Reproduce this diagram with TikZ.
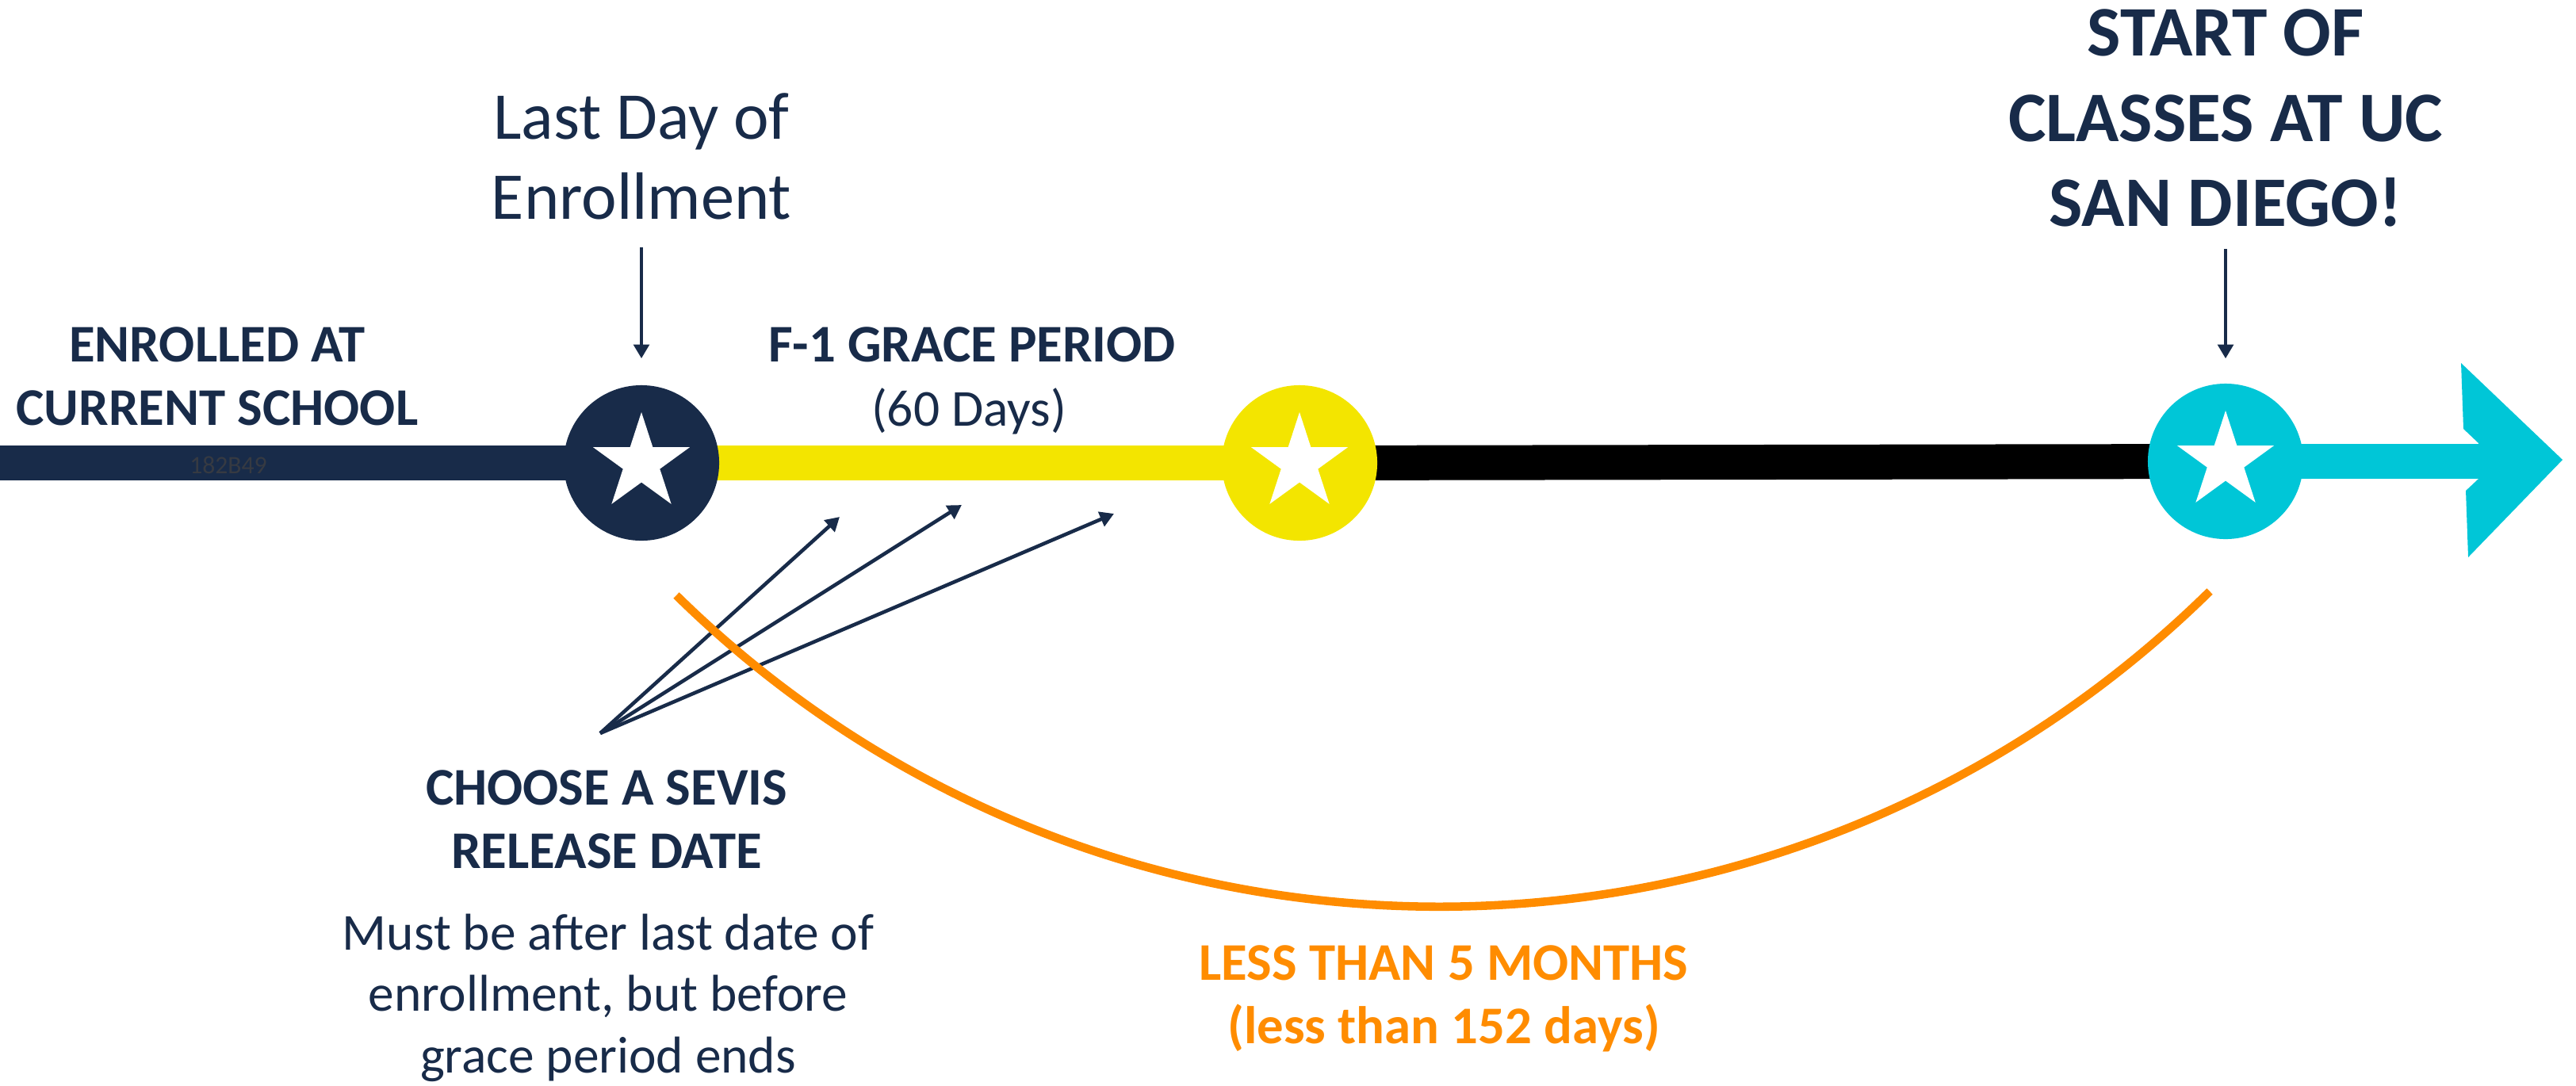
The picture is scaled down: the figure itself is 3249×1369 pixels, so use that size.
\documentclass[tikz,border=0pt]{standalone}
\usepackage{fontspec}
\setmainfont{Carlito}
\usetikzlibrary{shapes.geometric,arrows.meta,backgrounds}
\definecolor{ucnavy}{HTML}{182B49}
\definecolor{graceyellow}{HTML}{F3E500}
\definecolor{ucaqua}{HTML}{00C6D7}
\definecolor{spanorange}{HTML}{FF8C00}
\definecolor{codegray}{HTML}{363A42}
\begin{document}
\begin{tikzpicture}[x=0.01cm,y=-0.01cm,every node/.style={inner sep=0pt,outer sep=0pt}]
	\tikzset{bar/.style={line width=0.44cm}}
	\tikzset{milestone/.style={circle,minimum size=1.96cm}}
	\tikzset{starmark/.style={star,star points=5,star point ratio=2.618,minimum size=1.28cm,fill=white}}
	\tikzset{pointer/.style={draw=ucnavy,line width=1.3pt,-{Triangle[length=5pt,width=5.5pt,fill=ucnavy]}}}
	\tikzset{heading/.style={font=\fontsize{19}{22.7}\selectfont\bfseries,text=ucnavy,align=center,anchor=north}}
	\tikzset{plain/.style={font=\fontsize{18.6}{22}\selectfont,text=ucnavy,align=center,anchor=north}}
	\useasboundingbox (0,0) rectangle (3249,1369);
	\coordinate (timeStart) at (0,584);
	\coordinate (headBase) at (3126,582);
	\node[milestone,fill=ucnavy] (lastDay) at (809,584) {};
	\node[milestone,fill=graceyellow] (graceEnd) at (1639,584) {};
	\node[milestone,fill=ucaqua] (classStart) at (2807,582) {};
	\node[starmark] (lastDayStar) at (lastDay) {};
	\node[starmark] (graceEndStar) at (graceEnd) {};
	\node[starmark] (classStartStar) at (classStart) {};
	\begin{scope}[on background layer]
		\draw[bar,ucnavy] (timeStart) -- (lastDay.center);
		\draw[bar,graceyellow] (lastDay.center) -- (graceEnd.center);
		\draw[bar,black] (graceEnd.center) -- (classStart.center);
		\draw[bar,ucaqua] (classStart.center) -- (headBase);
	\end{scope}
	\fill[ucaqua] (headBase) -- ++(0,-23) -- ++(-19,-18) -- ++(-3,-83) -- ++(128,122) -- ++(-119,123) -- ++(-3,-84) -- ++(16,-15) -- cycle;
	\node[font=\fontsize{9}{10}\selectfont,text=codegray] (barCode) at (288,587) {182B49};
	\node[heading] (enrolledLbl) at (274,413) {ENROLLED AT\\CURRENT SCHOOL};
	\node[heading,font=\fontsize{24}{28.6}\selectfont,anchor=north] (lastDayLbl) at (809,118) {Last Day of\\Enrollment};
	\node[heading] (graceLbl) at (1226,413) {F-1 GRACE PERIOD};
	\node[plain] (graceDays) at (1222,490) {(60 Days)};
	\node[heading,font=\fontsize{25.5}{30.5}\selectfont\bfseries] (startLbl) at (2807,12) {START OF\\CLASSES AT UC\\SAN DIEGO!};
	\node[heading] (sevisLbl) at (765,972) {CHOOSE A SEVIS\\RELEASE DATE};
	\node[plain] (sevisNote) at (767,1153) {Must be after last date of\\enrollment, but before\\grace period ends};
	\node[heading,text=spanorange] (spanLbl) at (1821,1193) {LESS THAN 5 MONTHS\\(less than 152 days)};
	\draw[pointer,shorten <=10pt,shorten >=9.6pt] (lastDayLbl.south) -- (lastDay.north);
	\draw[pointer,shorten <=8pt,shorten >=9pt] (startLbl.south) -- (classStart.north);
	\coordinate (sevisPick) at (757,925);
	\coordinate (pickEarly) at (1059,652);
	\coordinate (pickMid) at (1213,637);
	\coordinate (pickLate) at (1405,648);
	\foreach \tip in {pickEarly,pickMid,pickLate}
		\draw[pointer] (sevisPick) -- (\tip);
	\coordinate (spanFrom) at (853,751);
	\coordinate (spanTo) at (2787,746);
	\draw[spanorange,line width=3pt] (spanFrom) .. controls +(536,527) and +(-536,527) .. (spanTo);
\end{tikzpicture}
\end{document}
